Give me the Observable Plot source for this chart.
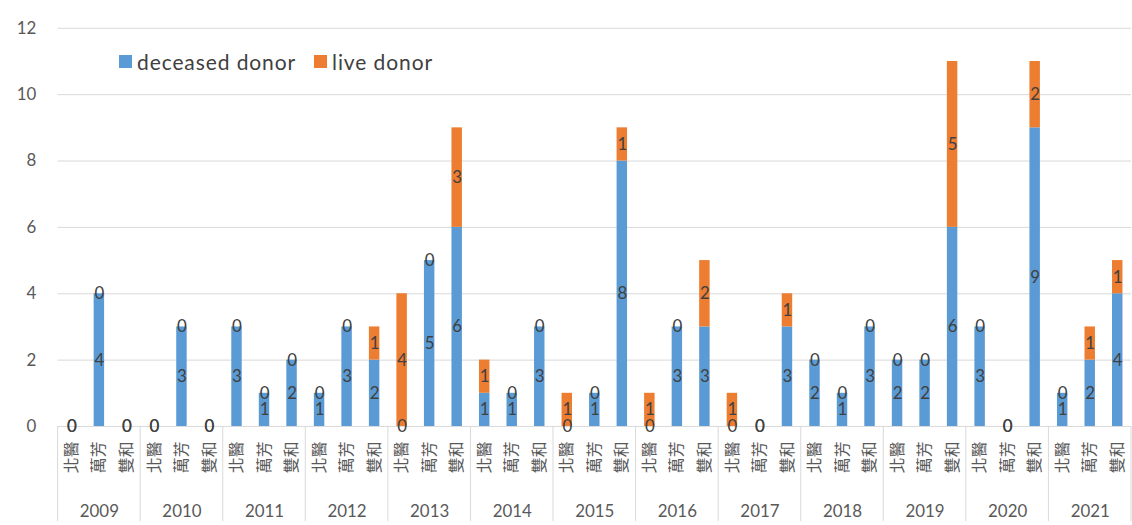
<!DOCTYPE html>
<html>
<head>
<meta charset="utf-8">
<script src="https://cdn.jsdelivr.net/npm/d3@7"></script>
<script src="https://cdn.jsdelivr.net/npm/@observablehq/plot@0.6"></script>
<style>
  html, body { margin: 0; padding: 0; background: #fff; overflow: hidden; }
  #wrap { position: relative; width: 1132px; height: 525px; overflow: hidden; }
  #legend { position: absolute; left: 119px; top: 49px; display: flex; align-items: center;
            font-family: Lato, "Open Sans", sans-serif; font-size: 21px; letter-spacing: 0.9px; color: #404040; }
  #legend .sw { width: 13px; height: 13px; display: inline-block; margin-right: 5px; }
  #legend .item { display: flex; align-items: center; margin-right: 18px; }
</style>
</head>
<body>
<div id="wrap"><div id="legend"></div></div>
<script>
const years = ["2009","2010","2011","2012","2013","2014","2015","2016","2017","2018","2019","2020","2021"];
const hospitals = ["北醫","萬芳","雙和"];
const series = ["deceased donor","live donor"];
const colors = ["#5B9BD5","#ED7D31"];
const yTicks = [0,2,4,6,8,10,12];
// per year: 北醫, 萬芳, 雙和
const deceased = [0,4,0, 0,3,0, 3,1,2, 1,3,2, 0,5,6, 1,1,3, 0,1,8, 0,3,3, 0,0,3, 2,1,3, 2,2,6, 3,0,9, 1,2,4];
const live     = [0,0,0, 0,0,0, 0,0,0, 0,0,1, 4,0,3, 1,0,0, 1,0,1, 1,0,2, 1,0,1, 0,0,0, 0,0,5, 0,0,2, 0,1,1];

const keys = [];
years.forEach(y => hospitals.forEach(h => keys.push(y + "|" + h)));

const rows = [];
keys.forEach((k, i) => {
  const d = deceased[i], l = live[i];
  rows.push({key: k, series: series[0], value: d, y1: 0, y2: d});
  rows.push({key: k, series: series[1], value: l, y1: d, y2: d + l});
});

const separators = (index, scales, values, dimensions) => {
  const x = scales.x;
  const bw = x.bandwidth ? x.bandwidth() : 0;
  const step = x(keys[1]) - x(keys[0]);
  const g = d3.create("svg:g").attr("stroke", "#d9d9d9").attr("stroke-width", 1);
  const bounds = years.map(y => x(y + "|" + hospitals[0]) + bw / 2 - step / 2);
  bounds.push(x(years[years.length-1] + "|" + hospitals[2]) + bw / 2 + step / 2);
  const yTop = dimensions.height - dimensions.marginBottom;
  bounds.forEach(b => {
    g.append("line").attr("x1", b).attr("x2", b).attr("y1", yTop).attr("y2", dimensions.height);
  });
  return g.node();
};

const chart = Plot.plot({
  width: 1140,
  height: 525,
  marginLeft: 58,
  marginRight: 1,
  marginTop: 28,
  marginBottom: 96,
  style: {fontFamily: "Lato, 'Noto Sans CJK TC', sans-serif", background: "#fff"},
  x: {domain: keys, paddingInner: 0.62, paddingOuter: 0.31, round: false, axis: null},
  y: {domain: [0, 12], axis: null},
  color: {domain: series, range: colors},
  marks: [
    Plot.gridY(yTicks, {stroke: "#d9d9d9", strokeOpacity: 1}),
    Plot.axisY(yTicks, {tickSize: 0, tickPadding: 22, fontSize: 17, fill: "#595959", fontFamily: "Lato, sans-serif", label: null}),
    Plot.barY(rows, {x: "key", y1: "y1", y2: "y2", fill: "series"}),
    Plot.text(rows, {x: "key", y: d => (d.y1 + d.y2) / 2, text: d => String(d.value), fill: "#404040", fontSize: 17, fontFamily: "Lato, sans-serif"}),
    Plot.axisX({tickRotate: -90, tickSize: 0, tickPadding: 15, tickFormat: d => d.split("|")[1], fontSize: 16, fill: "#595959", fontFamily: "'Noto Sans CJK TC', sans-serif", label: null, style: {letterSpacing: "4px"}}),
    Plot.text(years, {x: d => d + "|" + hospitals[1], frameAnchor: "bottom", lineAnchor: "middle", dy: 86, text: d => d, fontSize: 17, fill: "#595959", fontFamily: "Lato, sans-serif"}),
    separators
  ]
});
document.getElementById("wrap").prepend(chart);

const legend = document.getElementById("legend");
series.forEach((s, i) => {
  const item = document.createElement("div");
  item.className = "item";
  const sw = document.createElement("span");
  sw.className = "sw";
  sw.style.background = colors[i];
  item.appendChild(sw);
  item.appendChild(document.createTextNode(s));
  legend.appendChild(item);
});
</script>
</body>
</html>
